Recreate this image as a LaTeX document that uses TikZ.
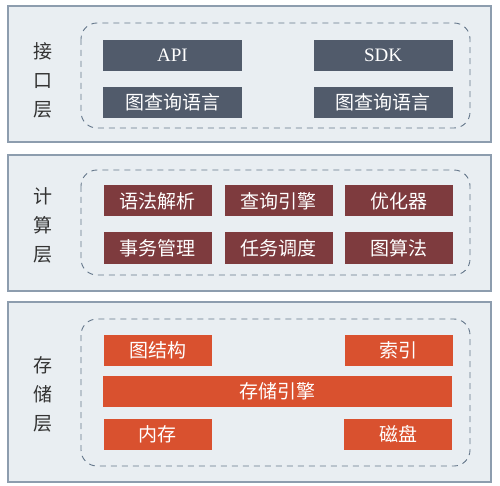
\documentclass[tikz,border=0pt]{standalone}
\usepackage{fontspec}
\setmainfont{Liberation Serif}
\newfontfamily\cjk{Noto Sans CJK SC}
\definecolor{panelfill}{HTML}{E9EEF2}
\definecolor{panelline}{HTML}{8D9DAE}
\definecolor{dashline}{HTML}{65778B}
\definecolor{apicol}{HTML}{515B6B}
\definecolor{calccol}{HTML}{7E3B3E}
\definecolor{storecol}{HTML}{D9512F}
\tikzset{
  panel/.style = {draw=panelline, fill=panelfill, line width=1.1pt},
  dashbox/.style = {draw=dashline, line width=0.9pt, dash pattern=on 6pt off 5pt, rounded corners=16pt},
  box/.style = {inner sep=0pt, minimum height=31pt, text=white, font=\cjk\fontsize{19}{19}\selectfont},
  apibox/.style = {box, fill=apicol, minimum width=139pt},
  calcbox/.style = {box, fill=calccol, minimum width=108pt},
  storebox/.style = {box, fill=storecol, minimum width=108pt},
  layer/.style = {align=center, font=\cjk\fontsize{19}{29}\selectfont, text=black!80}
}

\begin{document}
\begin{tikzpicture}[x=1pt, y=-1pt]
	\useasboundingbox (0,0) rectangle (500,486);
	% interface layer
	\draw[panel] (8,6) rectangle (491,142);
	\draw[dashbox] (81,23) rectangle (470,128);
	\node[layer] (ifacelabel) at (43,80) {接\\口\\层};
	\node[apibox, font=\rmfamily\fontsize{19}{19}\selectfont] (api) at (172.5,55.5) {API};
	\node[apibox, font=\rmfamily\fontsize{19}{19}\selectfont] (sdk) at (383,55.5) {SDK};
	\node[apibox] (gqlleft) at (172.5,102.5) {图查询语言};
	\node[apibox] (gqlright) at (383,102.5) {图查询语言};
	% compute layer
	\draw[panel] (8,155) rectangle (491,291);
	\draw[dashbox] (81,170) rectangle (470,275);
	\node[layer] (calclabel) at (43,225) {计\\算\\层};
	\node[calcbox] (parse) at (157.5,201) {语法解析};
	\node[calcbox] (engine) at (278.5,201) {查询引擎};
	\node[calcbox] (optim) at (398.5,201) {优化器};
	\node[calcbox] (trans) at (157.5,248) {事务管理};
	\node[calcbox] (sched) at (278.5,248) {任务调度};
	\node[calcbox] (algo) at (398.5,248) {图算法};
	% storage layer
	\draw[panel] (8,302) rectangle (491,482);
	\draw[dashbox] (81,319) rectangle (470,466);
	\node[layer] (storelabel) at (43,394) {存\\储\\层};
	\node[storebox] (graph) at (157.5,350) {图结构};
	\node[storebox] (index) at (398.5,350) {索引};
	\node[storebox, minimum width=349pt] (storage) at (277.5,391) {存储引擎};
	\node[storebox] (memory) at (157.5,434) {内存};
	\node[storebox] (disk) at (398,434) {磁盘};
\end{tikzpicture}
\end{document}
